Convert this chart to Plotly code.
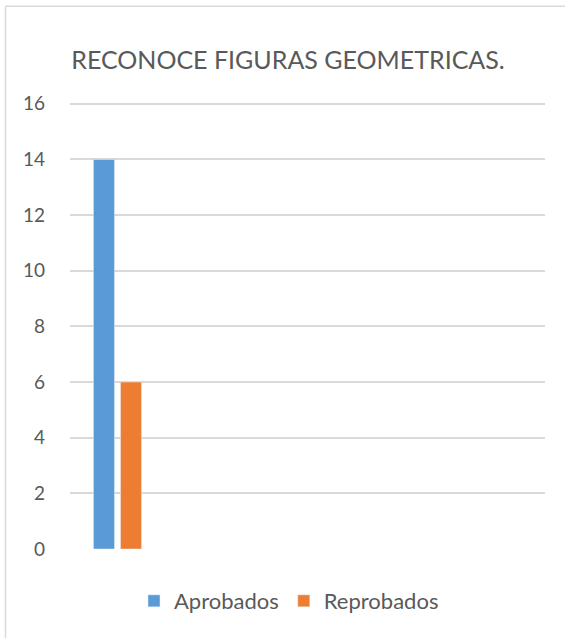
import plotly.graph_objects as go

categories = ["1", "2", "3", "4", "5"]
aprobados = [14, None, None, None, None]
reprobados = [6, None, None, None, None]
y_ticks = [0, 2, 4, 6, 8, 10, 12, 14, 16]
title_text = "RECONOCE FIGURAS GEOMETRICAS."

W, H = 565, 638
Y_MAX = 16.1
# plot area: x 70..545, value 0 at y=549, value 16 at y=104
unit = (549 - 104) / 16.0
L, R = 70, 20
B = H - 549
T = 549 - Y_MAX * unit
font = "Lato, Carlito, Open Sans, sans-serif"
gray = "#595959"

fig = go.Figure()
fig.add_trace(go.Bar(name="Aprobados", x=categories, y=aprobados, marker_color="#5B9BD5"))
fig.add_trace(go.Bar(name="Reprobados", x=categories, y=reprobados, marker_color="#ED7D31"))

pw = W - L - R
ph = H - T - B
def px(x):
    return (x - L) / pw
def py(y):
    return (H - B - y) / ph

fig.update_layout(
    width=W, height=H,
    margin=dict(l=L, r=R, t=T, b=B, autoexpand=False),
    paper_bgcolor="white", plot_bgcolor="white",
    barmode="group", bargap=0.43, bargroupgap=0.224,
    font=dict(family=font, color=gray, size=18),
    title=dict(text=title_text, x=288 / W, xanchor="center", y=1 - 60 / H, yanchor="middle",
               font=dict(family=font, size=25, color=gray)),
    xaxis=dict(showticklabels=False, showgrid=False, zeroline=False, showline=False, ticks="",
               range=[-0.5, 4.5], fixedrange=True),
    yaxis=dict(range=[0, Y_MAX], tickvals=y_ticks, showgrid=True, gridcolor="#D9D9D9", gridwidth=1.5,
               zeroline=False, showline=False, ticks="", ticklabelstandoff=24,
               tickfont=dict(family=font, size=19, color=gray), fixedrange=True),
    showlegend=True,
    legend=dict(orientation="h", x=px(134), xanchor="left", y=py(601), yanchor="middle",
                font=dict(family=font, size=22, color=gray), itemwidth=30, traceorder="normal"),
    shapes=[
        dict(type="line", xref="paper", yref="paper", x0=px(5.5), x1=px(W), y0=py(6.5), y1=py(6.5),
             line=dict(color="#D9D9D9", width=1.5)),
        dict(type="line", xref="paper", yref="paper", x0=px(5.5), x1=px(5.5), y0=py(6.5), y1=py(H),
             line=dict(color="#D9D9D9", width=1.5)),
    ],
)

fig.write_html("out.html", config={"displayModeBar": False},
               post_script="document.body.style.margin='0';document.body.style.overflow='hidden';")
